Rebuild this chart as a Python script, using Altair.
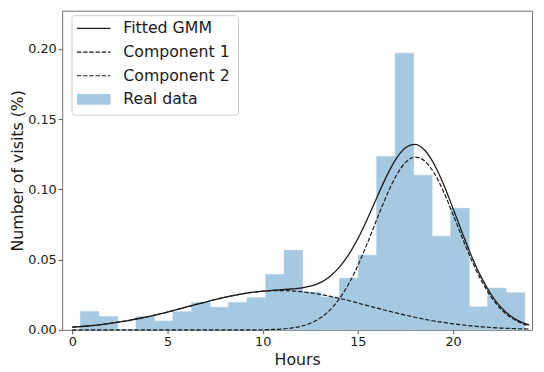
import altair as alt
import pandas as pd

# Histogram (bin edges in hours, share of visits)
bin_edges = [0.43, 1.40, 2.38, 3.35, 4.32, 5.29, 6.27, 7.24, 8.21, 9.18, 10.16, 11.13,
             12.10, 13.07, 14.04, 15.02, 15.99, 16.96, 17.93, 18.90, 19.88, 20.85, 21.82,
             22.79, 23.77]
visit_share = [0.0130, 0.0095, 0.0, 0.0094, 0.0063, 0.0129, 0.0194, 0.0161, 0.0194, 0.0229,
               0.0395, 0.0566, 0.0269, 0.0234, 0.0367, 0.0531, 0.1234, 0.1970, 0.1100,
               0.0666, 0.0865, 0.0164, 0.0297, 0.0264]

# Curves
curve_hours = [0, 0.5, 1, 1.5, 2, 2.5, 3, 3.5, 4, 4.5, 5, 5.5, 6, 6.5, 7, 7.5, 8, 8.5, 9, 9.5,
               10, 10.5, 11, 11.5, 12, 12.5, 13, 13.5, 14, 14.5, 15, 15.5, 16, 16.5, 17, 17.5,
               18, 18.5, 19, 19.5, 20, 20.5, 21, 21.5, 22, 22.5, 23, 23.5, 24]
gmm_total = [0.0019, 0.0024, 0.0030, 0.0038, 0.0047, 0.0057, 0.0068, 0.0081, 0.0095, 0.0111,
             0.0127, 0.0145, 0.0163, 0.0181, 0.0198, 0.0216, 0.0231, 0.0246, 0.0258, 0.0268,
             0.0276, 0.0282, 0.0286, 0.0291, 0.0297, 0.0311, 0.0335, 0.0377, 0.0441, 0.0532,
             0.0649, 0.0790, 0.0943, 0.1091, 0.1215, 0.1296, 0.1320, 0.1280, 0.1181, 0.1037,
             0.0864, 0.0685, 0.0516, 0.0370, 0.0252, 0.0163, 0.0101, 0.0061, 0.0035]
component_1 = [0.0019, 0.0024, 0.0030, 0.0038, 0.0047, 0.0057, 0.0068, 0.0081, 0.0095, 0.0111,
               0.0127, 0.0145, 0.0163, 0.0181, 0.0198, 0.0216, 0.0231, 0.0246, 0.0258, 0.0268,
               0.0275, 0.0279, 0.0280, 0.0278, 0.0272, 0.0264, 0.0253, 0.0240, 0.0225, 0.0209,
               0.0191, 0.0173, 0.0155, 0.0138, 0.0121, 0.0105, 0.0090, 0.0076, 0.0063, 0.0053,
               0.0043, 0.0035, 0.0028, 0.0022, 0.0017, 0.0013, 0.0010, 0.0008, 0.0006]
component_2 = [0.0, 0.0, 0.0, 0.0, 0.0, 0.0, 0.0, 0.0, 0.0, 0.0,
               0.0, 0.0, 0.0, 0.0, 0.0, 0.0, 0.0, 0.0, 0.0, 0.0,
               0.0001, 0.0003, 0.0006, 0.0013, 0.0025, 0.0047, 0.0082, 0.0137, 0.0216, 0.0323,
               0.0458, 0.0617, 0.0788, 0.0953, 0.1094, 0.1191, 0.1230, 0.1204, 0.1118, 0.0984,
               0.0821, 0.0650, 0.0488, 0.0348, 0.0235, 0.0150, 0.0091, 0.0053, 0.0029]

x_ticks = [0, 5, 10, 15, 20]
y_ticks = [0.0, 0.05, 0.10, 0.15, 0.20]
legend_labels = ["Fitted GMM", "Component 1", "Component 2", "Real data"]

FONT = "DejaVu Sans"
BAR_COLOR = "#a5c9e1"
LINE_COLOR = "#1a1a1a"

hist_df = pd.DataFrame({"left": bin_edges[:-1], "right": bin_edges[1:], "share": visit_share})
curve_df = pd.DataFrame({"hour": curve_hours, "total": gmm_total,
                         "c1": component_1, "c2": component_2})

xscale = alt.Scale(domain=[-0.53, 24.15], nice=False, zero=False)
yscale = alt.Scale(domain=[0, 0.2272], nice=False, zero=False)

bars = alt.Chart(hist_df).mark_rect(color=BAR_COLOR, stroke=BAR_COLOR, strokeWidth=0.6).encode(
    x=alt.X("left:Q", scale=xscale,
            axis=alt.Axis(values=x_ticks, title="Hours", format="d")),
    x2="right:Q",
    y=alt.Y("share:Q", scale=yscale,
            axis=alt.Axis(values=y_ticks, format=".2f", title="Number of visits (%)")),
    y2=alt.datum(0),
)

def curve(field, dash):
    kw = dict(color=LINE_COLOR, strokeWidth=1.3, interpolate="monotone")
    if dash:
        kw["strokeDash"] = [4.4, 1.9]
        kw["strokeWidth"] = 1.2
    return alt.Chart(curve_df).mark_line(**kw).encode(
        x=alt.X("hour:Q", scale=xscale),
        y=alt.Y(f"{field}:Q", scale=yscale),
    )

total_line = curve("total", False)
c1_line = curve("c1", True)
c2_line = curve("c2", True)

# Legend box (pixel layout inside plot area)
leg_box = alt.Chart(pd.DataFrame({"a": [0]})).mark_rect(
    fill="white", fillOpacity=0.8, stroke="#cccccc", strokeWidth=1, cornerRadius=3
).encode(x=alt.value(10), x2=alt.value(179), y=alt.value(5), y2=alt.value(106))

row_y = [18, 42, 66, 90]
leg_layers = [leg_box]
leg_layers.append(alt.Chart(pd.DataFrame({"a": [0]})).mark_rule(
    color=LINE_COLOR, strokeWidth=1.3).encode(
    x=alt.value(15), x2=alt.value(49), y=alt.value(row_y[0])))
for ry in row_y[1:3]:
    leg_layers.append(alt.Chart(pd.DataFrame({"a": [0]})).mark_rule(
        color=LINE_COLOR, strokeWidth=1.2, strokeDash=[4.4, 1.9]).encode(
        x=alt.value(15), x2=alt.value(49), y=alt.value(ry)))
leg_layers.append(alt.Chart(pd.DataFrame({"a": [0]})).mark_rect(color=BAR_COLOR).encode(
    x=alt.value(15), x2=alt.value(49), y=alt.value(row_y[3] - 5.5), y2=alt.value(row_y[3] + 5.5)))
for lab, ry in zip(legend_labels, row_y):
    leg_layers.append(alt.Chart(pd.DataFrame({"t": [lab]})).mark_text(
        align="left", baseline="middle", font=FONT, fontSize=16, color="#1a1a1a").encode(
        x=alt.value(62), y=alt.value(ry), text="t:N"))

chart = alt.layer(bars, c1_line, c2_line, total_line, *leg_layers).properties(
    width=477, height=324,
    autosize=alt.AutoSizeParams(type="none"),
    padding={"left": 55, "top": 0, "right": 4, "bottom": 40},
).configure_view(
    stroke="#707070", strokeWidth=1
).configure_axis(
    domain=False, grid=False, labelFont=FONT, titleFont=FONT,
    labelFontSize=13, titleFontSize=16, labelColor="#1a1a1a", titleColor="#1a1a1a",
    tickColor="#555555", tickSize=4, labelPadding=2, titleFontWeight="normal",
).configure_axisY(
    titlePadding=2
).configure_axisX(
    titlePadding=3
)

chart.save("out.html", embed_options={"renderer": "svg", "actions": False})
